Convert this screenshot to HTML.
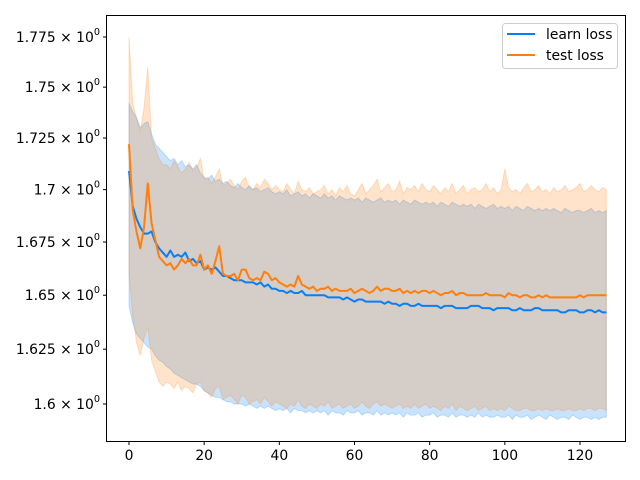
<!DOCTYPE html>
<html><head><meta charset="utf-8"><style>
body{margin:0;background:#fff;}
svg{display:block;font-family:"DejaVu Sans","Liberation Sans",sans-serif;}
</style></head><body>
<svg id="chart" width="640" height="480">
<rect width="640" height="480" fill="#fff"/>
<g id="bands"></g>
<g id="lines"></g>
<g id="axes"></g>
<g>
<rect x="502.5" y="23.5" width="115" height="45" rx="3" fill="#fff" fill-opacity="0.8" stroke="#ccc"/>
<line x1="507" y1="34" x2="535" y2="34" stroke="#0a7ff5" stroke-width="2"/>
<text x="546" y="39" font-size="13.9">learn loss</text>
<line x1="507" y1="55" x2="535" y2="55" stroke="#ff7f0e" stroke-width="2"/>
<text x="546" y="60" font-size="13.9">test loss</text>
</g>
</svg>
<script>
const learnMean=[1.709,1.692,1.686,1.682,1.679,1.679,1.680,1.675,1.672,1.670,
1.668,1.671,1.668,1.669,1.668,1.670,1.666,1.667,1.665,1.666,
1.662,1.663,1.662,1.663,1.661,1.659,1.659,1.658,1.657,1.657,
1.657,1.656,1.656,1.656,1.655,1.656,1.654,1.655,1.653,1.653,
1.652,1.652,1.651,1.652,1.651,1.651,1.652,1.650,1.650,1.650,
1.650,1.650,1.650,1.649,1.649,1.649,1.649,1.648,1.649,1.648,
1.647,1.648,1.648,1.647,1.647,1.647,1.647,1.647,1.646,1.647,
1.646,1.646,1.645,1.646,1.646,1.645,1.645,1.646,1.645,1.645,
1.645,1.645,1.645,1.644,1.645,1.645,1.645,1.644,1.644,1.644,
1.644,1.645,1.645,1.645,1.644,1.644,1.644,1.643,1.644,1.644,
1.644,1.644,1.643,1.643,1.644,1.643,1.643,1.643,1.644,1.644,
1.643,1.643,1.643,1.643,1.643,1.642,1.642,1.643,1.643,1.643,
1.642,1.642,1.643,1.643,1.642,1.643,1.642,1.642];
const testMean=[1.722,1.690,1.680,1.672,1.682,1.703,1.684,1.676,1.668,1.666,
1.664,1.665,1.662,1.664,1.667,1.665,1.667,1.664,1.664,1.669,
1.662,1.664,1.660,1.666,1.673,1.660,1.659,1.659,1.660,1.657,
1.662,1.662,1.658,1.657,1.658,1.657,1.661,1.660,1.657,1.658,
1.656,1.655,1.654,1.655,1.654,1.659,1.655,1.654,1.653,1.654,
1.652,1.653,1.653,1.654,1.652,1.653,1.652,1.652,1.652,1.653,
1.651,1.652,1.653,1.652,1.651,1.652,1.654,1.652,1.653,1.653,
1.652,1.652,1.653,1.651,1.652,1.651,1.652,1.651,1.652,1.652,
1.651,1.652,1.651,1.650,1.651,1.651,1.652,1.650,1.651,1.651,
1.650,1.650,1.650,1.650,1.650,1.651,1.650,1.650,1.650,1.650,
1.649,1.651,1.650,1.650,1.649,1.650,1.650,1.649,1.649,1.650,
1.649,1.650,1.649,1.649,1.649,1.649,1.649,1.649,1.649,1.649,
1.650,1.649,1.650,1.650,1.650,1.650,1.650,1.650];
const learnUpper=[1.742,1.738,1.735,1.730,1.732,1.733,1.727,1.722,1.720,1.718,
1.716,1.714,1.715,1.712,1.714,1.711,1.712,1.710,1.712,1.708,
1.706,1.705,1.707,1.704,1.705,1.703,1.704,1.702,1.701,1.703,
1.701,1.700,1.702,1.700,1.701,1.699,1.700,1.701,1.699,1.698,
1.699,1.698,1.700,1.697,1.698,1.699,1.697,1.698,1.696,1.698,
1.697,1.696,1.698,1.696,1.697,1.695,1.697,1.696,1.695,1.696,
1.695,1.696,1.694,1.696,1.695,1.694,1.695,1.696,1.694,1.695,
1.694,1.695,1.693,1.695,1.694,1.693,1.695,1.694,1.693,1.694,
1.693,1.694,1.692,1.694,1.693,1.692,1.694,1.693,1.692,1.693,
1.692,1.693,1.691,1.693,1.692,1.691,1.692,1.693,1.691,1.692,
1.691,1.692,1.690,1.692,1.691,1.690,1.692,1.691,1.690,1.691,
1.690,1.691,1.690,1.691,1.690,1.689,1.691,1.690,1.689,1.690,
1.690,1.689,1.690,1.691,1.689,1.690,1.689,1.690];
const learnLower=[1.645,1.637,1.632,1.630,1.628,1.626,1.625,1.622,1.620,1.619,
1.617,1.616,1.614,1.613,1.612,1.611,1.610,1.609,1.609,1.608,
1.606,1.605,1.604,1.603,1.603,1.602,1.601,1.601,1.600,1.600,
1.600,1.599,1.600,1.599,1.598,1.599,1.598,1.599,1.598,1.597,
1.598,1.597,1.598,1.596,1.598,1.597,1.597,1.596,1.597,1.596,
1.597,1.596,1.597,1.595,1.597,1.596,1.596,1.595,1.597,1.596,
1.596,1.597,1.595,1.596,1.596,1.595,1.597,1.595,1.596,1.595,
1.596,1.595,1.596,1.594,1.596,1.595,1.595,1.596,1.594,1.595,
1.595,1.596,1.594,1.595,1.595,1.594,1.596,1.594,1.595,1.595,
1.594,1.595,1.594,1.596,1.594,1.595,1.594,1.594,1.595,1.594,
1.594,1.595,1.593,1.595,1.594,1.594,1.595,1.593,1.594,1.595,
1.594,1.593,1.595,1.594,1.593,1.594,1.594,1.593,1.595,1.594,
1.593,1.594,1.594,1.593,1.594,1.593,1.594,1.594];
const testUpper=[1.775,1.742,1.735,1.728,1.740,1.760,1.725,1.720,1.715,1.712,
1.712,1.710,1.714,1.711,1.708,1.710,1.713,1.709,1.711,1.715,
1.705,1.706,1.703,1.706,1.710,1.702,1.703,1.705,1.702,1.700,
1.704,1.706,1.701,1.700,1.703,1.701,1.705,1.703,1.700,1.702,
1.700,1.699,1.703,1.700,1.698,1.704,1.700,1.699,1.701,1.698,
1.699,1.700,1.702,1.698,1.700,1.697,1.701,1.699,1.702,1.698,
1.697,1.700,1.703,1.698,1.700,1.702,1.705,1.699,1.701,1.703,
1.699,1.700,1.704,1.698,1.701,1.700,1.702,1.699,1.703,1.700,
1.699,1.702,1.700,1.698,1.701,1.699,1.703,1.698,1.700,1.702,
1.698,1.700,1.701,1.699,1.700,1.703,1.699,1.701,1.698,1.700,
1.710,1.701,1.699,1.700,1.698,1.701,1.703,1.699,1.700,1.702,
1.699,1.700,1.698,1.701,1.699,1.700,1.702,1.699,1.700,1.701,
1.703,1.699,1.700,1.702,1.700,1.699,1.701,1.700];
const testLower=[1.660,1.640,1.628,1.622,1.630,1.635,1.620,1.615,1.610,1.608,
1.610,1.609,1.607,1.610,1.606,1.608,1.607,1.605,1.609,1.610,
1.606,1.605,1.603,1.607,1.608,1.602,1.603,1.604,1.602,1.600,
1.604,1.603,1.600,1.601,1.602,1.600,1.603,1.601,1.599,1.601,
1.600,1.599,1.598,1.600,1.599,1.602,1.599,1.598,1.600,1.599,
1.598,1.600,1.599,1.601,1.598,1.599,1.600,1.598,1.599,1.600,
1.598,1.599,1.601,1.599,1.598,1.600,1.601,1.599,1.600,1.599,
1.598,1.599,1.600,1.598,1.599,1.598,1.600,1.598,1.599,1.600,
1.598,1.599,1.598,1.597,1.599,1.598,1.600,1.597,1.599,1.598,
1.597,1.598,1.599,1.597,1.598,1.599,1.597,1.598,1.597,1.598,
1.597,1.599,1.598,1.597,1.597,1.598,1.598,1.597,1.597,1.598,
1.597,1.598,1.597,1.597,1.598,1.597,1.597,1.598,1.597,1.597,
1.598,1.597,1.598,1.598,1.597,1.598,1.598,1.597];
const xTicks=[0,20,40,60,80,100,120];
const yTicks=[1.6,1.625,1.65,1.675,1.7,1.725,1.75,1.775];
const yTickLabels=["1.6","1.625","1.65","1.675","1.7","1.725","1.75","1.775"];

const NS="http://www.w3.org/2000/svg";
const L=106,R=625,T=15,B=441;
function xs(v){return 129+v*(580-129)/120;}
function ys(v){return 404-(Math.log(v)-Math.log(1.6))*(404-37)/(Math.log(1.775)-Math.log(1.6));}
function mk(tag,attrs,parent){const e=document.createElementNS(NS,tag);for(const k in attrs)e.setAttribute(k,attrs[k]);parent.appendChild(e);return e;}
function bandPath(up,lo){let d="";up.forEach((v,i)=>{d+=(i?"L":"M")+xs(i).toFixed(2)+","+ys(v).toFixed(2);});for(let i=lo.length-1;i>=0;i--)d+="L"+xs(i).toFixed(2)+","+ys(lo[i]).toFixed(2);return d+"Z";}
function linePath(a){return a.map((v,i)=>(i?"L":"M")+xs(i).toFixed(2)+","+ys(v).toFixed(2)).join("");}
const bands=document.getElementById("bands"),lines=document.getElementById("lines"),axes=document.getElementById("axes");
const b1=mk("path",{d:bandPath(learnUpper,learnLower),fill:"#0a7ff5","fill-opacity":"0.22",stroke:"#0a7ff5","stroke-opacity":"0.22"},bands);


const b2=mk("path",{d:bandPath(testUpper,testLower),fill:"#ff7f0e","fill-opacity":"0.22",stroke:"#ff7f0e","stroke-opacity":"0.22"},bands);


const l1=mk("path",{d:linePath(learnMean),fill:"none",stroke:"#0a7ff5","stroke-width":"2","stroke-linejoin":"round"},lines);


const l2=mk("path",{d:linePath(testMean),fill:"none",stroke:"#ff7f0e","stroke-width":"2","stroke-linejoin":"round"},lines);


const frame=mk("rect",{x:L+0.5,y:T+0.5,width:R-L,height:B-T,fill:"none",stroke:"#000","stroke-width":"1"},axes);


xTicks.forEach(t=>{const x=xs(t);
mk("line",{x1:x,y1:B+0.5,x2:x,y2:B+4,stroke:"#000"},axes);
const tx=mk("text",{x:x,y:B+19,"font-size":"13.9","text-anchor":"middle"},axes);tx.textContent=t;

});
yTicks.forEach((t,i)=>{const y=ys(t);
mk("line",{x1:L+0.5,y1:y,x2:L-3,y2:y,stroke:"#000"},axes);
const tx=mk("text",{x:L-6,y:y+5,"font-size":"13.9","text-anchor":"end"},axes);
tx.textContent=yTickLabels[i]+" \u00d7 10";
const s=mk("tspan",{dy:"-7","font-size":"9.7"},tx);s.textContent="0";

});
</script>
</body></html>
